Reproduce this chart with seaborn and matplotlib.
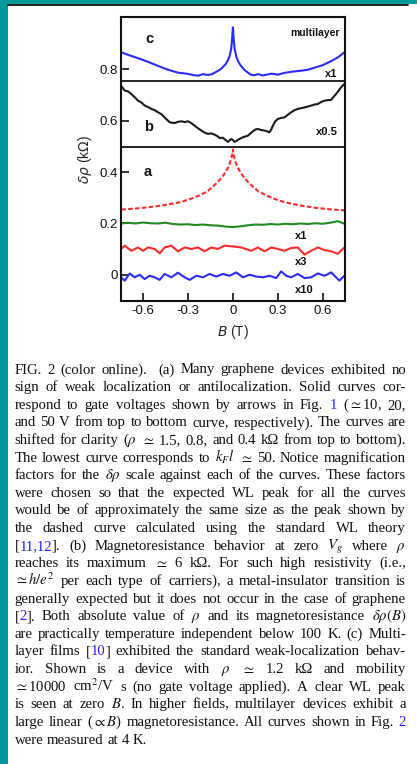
import matplotlib
matplotlib.use("Agg")
import matplotlib.pyplot as plt
import seaborn as sns
import pandas as pd
from matplotlib.patches import Rectangle
from matplotlib.lines import Line2D

# ---------------- data (kOhm, shifted for clarity) ----------------
# (c) multilayer device, x1
B_c = [-0.745, -0.70, -0.633, -0.567, -0.50, -0.433, -0.367, -0.30, -0.26, -0.233,
       -0.20, -0.17, -0.144, -0.12, -0.10, -0.08, -0.067, -0.05, -0.035, -0.022,
       -0.011, -0.004, 0.0, 0.004, 0.011, 0.022, 0.035, 0.05, 0.067, 0.08,
       0.10, 0.12, 0.144, 0.17, 0.20, 0.233, 0.26, 0.30, 0.344, 0.40,
       0.45, 0.50, 0.55, 0.60, 0.65, 0.70, 0.745]
rho_c = [0.865, 0.855, 0.842, 0.828, 0.812, 0.797, 0.786, 0.781, 0.776, 0.774,
         0.780, 0.777, 0.779, 0.786, 0.793, 0.800, 0.808, 0.818, 0.832, 0.850,
         0.880, 0.925, 0.962, 0.925, 0.880, 0.850, 0.830, 0.815, 0.803, 0.795,
         0.786, 0.778, 0.776, 0.780, 0.775, 0.779, 0.782, 0.778, 0.785, 0.790,
         0.793, 0.797, 0.806, 0.815, 0.829, 0.845, 0.865]

# (b) zero gate voltage, x0.5
B_b = [-0.747, -0.722, -0.700, -0.678, -0.655, -0.633, -0.611, -0.589, -0.566, -0.544,
       -0.522, -0.50, -0.478, -0.456, -0.422, -0.389, -0.366, -0.344, -0.322, -0.30,
       -0.278, -0.256, -0.233, -0.211, -0.189, -0.167, -0.144, -0.122, -0.10, -0.089,
       -0.067, -0.056, -0.044, -0.033, -0.022, -0.011, 0.0, 0.011, 0.022, 0.033,
       0.050, 0.067, 0.083, 0.10, 0.117, 0.133, 0.150, 0.167, 0.189, 0.211,
       0.233, 0.244, 0.256, 0.267, 0.283, 0.30, 0.322, 0.344, 0.366, 0.389,
       0.411, 0.433, 0.456, 0.478, 0.50, 0.522, 0.544, 0.567, 0.589, 0.611,
       0.633, 0.656, 0.672, 0.689, 0.706, 0.722, 0.744]
rho_b = [0.735, 0.716, 0.713, 0.703, 0.690, 0.677, 0.670, 0.658, 0.652, 0.645,
         0.640, 0.632, 0.625, 0.612, 0.593, 0.590, 0.595, 0.597, 0.594, 0.597,
         0.590, 0.580, 0.570, 0.561, 0.553, 0.548, 0.550, 0.545, 0.538, 0.532,
         0.533, 0.528, 0.522, 0.517, 0.523, 0.528, 0.524, 0.517, 0.520, 0.525,
         0.530, 0.535, 0.538, 0.541, 0.550, 0.558, 0.565, 0.567, 0.563, 0.561,
         0.557, 0.554, 0.565, 0.580, 0.597, 0.606, 0.610, 0.612, 0.622, 0.632,
         0.640, 0.645, 0.648, 0.651, 0.654, 0.658, 0.662, 0.664, 0.672, 0.677,
         0.679, 0.680, 0.692, 0.703, 0.716, 0.729, 0.742]

# (a) standard WL theory (dashed)
B_wl = [-0.745, -0.65, -0.55, -0.45, -0.35, -0.28, -0.22, -0.17, -0.13, -0.10,
        -0.08, -0.06, -0.045, -0.03, -0.02, -0.012, -0.006, -0.002, 0.0, 0.002,
        0.006, 0.012, 0.02, 0.03, 0.045, 0.06, 0.08, 0.10, 0.13, 0.17,
        0.22, 0.28, 0.35, 0.45, 0.55, 0.65, 0.745]
rho_wl = [0.254, 0.258, 0.264, 0.272, 0.283, 0.296, 0.310, 0.325, 0.345, 0.362,
          0.375, 0.390, 0.404, 0.420, 0.435, 0.450, 0.465, 0.477, 0.487, 0.477,
          0.465, 0.450, 0.435, 0.420, 0.404, 0.390, 0.375, 0.362, 0.345, 0.325,
          0.310, 0.295, 0.282, 0.270, 0.261, 0.255, 0.251]

# (a) Vg ~ 10 V, x1
B_g1 = [-0.745, -0.70, -0.65, -0.60, -0.55, -0.50, -0.45, -0.40, -0.35, -0.30,
        -0.25, -0.20, -0.15, -0.10, -0.05, 0.0, 0.05, 0.10, 0.15, 0.20,
        0.25, 0.30, 0.35, 0.40, 0.45, 0.50, 0.55, 0.60, 0.65, 0.70, 0.745]
rho_g1 = [0.200, 0.203, 0.200, 0.204, 0.201, 0.200, 0.203, 0.198, 0.196, 0.197,
          0.194, 0.196, 0.193, 0.192, 0.188, 0.186, 0.189, 0.193, 0.196, 0.195,
          0.198, 0.196, 0.199, 0.197, 0.200, 0.198, 0.201, 0.199, 0.203, 0.209, 0.199]

# (a) Vg ~ 20 V, x3
B_g3 = [-0.747, -0.722, -0.678, -0.633, -0.60, -0.567, -0.522, -0.489, -0.456, -0.411,
        -0.367, -0.322, -0.278, -0.233, -0.189, -0.144, -0.10, -0.056, 0.0, 0.056,
        0.122, 0.167, 0.211, 0.256, 0.30, 0.344, 0.389, 0.433, 0.478, 0.522,
        0.567, 0.611, 0.656, 0.70, 0.733, 0.744]
rho_g3 = [0.101, 0.114, 0.094, 0.107, 0.094, 0.107, 0.101, 0.084, 0.107, 0.114,
          0.092, 0.107, 0.101, 0.107, 0.092, 0.107, 0.101, 0.114, 0.111, 0.107,
          0.094, 0.107, 0.092, 0.107, 0.101, 0.094, 0.105, 0.107, 0.079, 0.094,
          0.107, 0.097, 0.092, 0.082, 0.101, 0.107]

# (a) Vg ~ 50 V, x10
B_g10 = [-0.747, -0.722, -0.689, -0.656, -0.622, -0.589, -0.556, -0.522, -0.489, -0.456,
         -0.411, -0.367, -0.322, -0.289, -0.244, -0.20, -0.156, -0.111, -0.067, -0.022,
         0.022, 0.067, 0.111, 0.156, 0.20, 0.244, 0.289, 0.322, 0.356, 0.389,
         0.433, 0.478, 0.522, 0.567, 0.611, 0.656, 0.689, 0.711, 0.744]
rho_g10 = [-0.009, -0.022, 0.006, -0.009, 0.001, -0.016, -0.003, -0.009, -0.019, 0.004,
           -0.009, 0.009, -0.009, -0.019, -0.003, -0.009, 0.004, -0.006, 0.004, -0.003,
           0.010, -0.009, 0.001, -0.006, -0.009, -0.003, -0.012, 0.014, -0.003, -0.009,
           0.004, -0.012, -0.009, 0.006, -0.003, 0.010, -0.009, -0.022, -0.003]

y_ticks = [0, 0.2, 0.4, 0.6, 0.8]
y_ticklabels = ["0", "0.2", "0.4", "0.6", "0.8"]
x_ticks = [-0.6, -0.3, 0, 0.3, 0.6]
x_ticklabels = ["-0.6", "-0.3", "0", "0.3", "0.6"]

# ---------------- style ----------------
sns.set_style("ticks")
plt.rcParams["font.family"] = ["Liberation Sans", "DejaVu Sans"]

W, H = 417, 764
fig = plt.figure(figsize=(W / 100, H / 100), dpi=100)
fig.patch.set_facecolor("white")

TEAL = "#009a9a"
fig.add_artist(Rectangle((0, 0), 8 / W, 1, transform=fig.transFigure, color=TEAL, lw=0))
fig.add_artist(Rectangle((0, 1 - 4 / H), 1, 4 / H, transform=fig.transFigure, color=TEAL, lw=0))
fig.add_artist(Line2D([8 / W, 408 / W], [1 - 4.8 / H, 1 - 4.8 / H], transform=fig.transFigure,
                      color="#111111", lw=1.3))


def px(x, y):
    return x / W, 1 - y / H


ax = fig.add_axes([121 / W, 1 - 301 / H, (344.5 - 121) / W, (301 - 17) / H])

curves = [
    (B_c, rho_c, "#2b2bff", "-"),
    (B_b, rho_b, "#1a1a1a", "-"),
    (B_wl, rho_wl, "#ff2b2b", (0, (2.2, 1.1))),
    (B_g1, rho_g1, "#228b22", "-"),
    (B_g3, rho_g3, "#ff2b2b", "-"),
    (B_g10, rho_g10, "#2b2bff", "-"),
]
for bx, ry, col, ls in curves:
    df = pd.DataFrame({"B": bx, "rho": ry})
    sns.lineplot(data=df, x="B", y="rho", ax=ax, color=col, lw=1.5,
                 linestyle=ls, estimator=None, sort=False)

ax.axhline(0.752, color="#111111", lw=1.3)
ax.axhline(0.499, color="#111111", lw=1.3)

ax.set_xlim(-0.747, 0.745)
ax.set_ylim(-0.101, 1.002)
ax.set_xticks(x_ticks)
ax.set_xticklabels(x_ticklabels)
ax.set_yticks(y_ticks)
ax.set_yticklabels(y_ticklabels)
ax.tick_params(direction="in", length=6, width=1.2, labelsize=9.5, colors="#111111",
               top=False, right=False)
ax.tick_params(axis="y", pad=2)
ax.tick_params(axis="x", pad=3)
for sp in ax.spines.values():
    sp.set_linewidth(1.5)
    sp.set_color("#111111")

ax.set_xlabel("$B$ (T)", fontsize=10, labelpad=4.5, math_fontfamily="dejavusans")
ax.set_ylabel(r"$\delta\rho$ (k$\Omega$)", fontsize=10, labelpad=4, math_fontfamily="dejavusans")

bold = dict(fontweight="bold", color="#111111")
ax.text(-0.56, 0.917, "c", fontsize=10.5, ha="center", va="center", **bold)
ax.text(-0.56, 0.575, "b", fontsize=10.5, ha="center", va="center", **bold)
ax.text(-0.567, 0.400, "a", fontsize=10.5, ha="center", va="center", **bold)
ax.text(0.715, 0.94, "multilayer", fontsize=7.5, ha="right", va="center", **bold)
ax.text(0.70, 0.781, "x1", fontsize=8, ha="right", va="center", **bold)
ax.text(0.70, 0.555, "x0.5", fontsize=8, ha="right", va="center", **bold)
ax.text(0.413, 0.153, "x1", fontsize=8, ha="left", va="center", **bold)
ax.text(0.413, 0.050, "x3", fontsize=8, ha="left", va="center", **bold)
ax.text(0.413, -0.058, "x10", fontsize=8, ha="left", va="center", **bold)

# ---------------- caption, justified ----------------
caption = [
    r"FIG. 2 (color online).  (a) Many graphene devices exhibited no",
    r"sign of weak localization or antilocalization. Solid curves cor-",
    r"respond to gate voltages shown by arrows in Fig. |1| ($\simeq$10, 20,",
    r"and 50 V from top to bottom curve, respectively). The curves are",
    r"shifted for clarity ($\rho$ $\simeq$ 1.5, 0.8, and 0.4 kΩ from top to bottom).",
    r"The lowest curve corresponds to $k_F l$ $\simeq$ 50. Notice magnification",
    r"factors for the $\delta\rho$ scale against each of the curves. These factors",
    r"were chosen so that the expected WL peak for all the curves",
    r"would be of approximately the same size as the peak shown by",
    r"the dashed curve calculated using the standard WL theory",
    r"[|11,12|]. (b) Magnetoresistance behavior at zero $V_g$ where $\rho$",
    r"reaches its maximum $\simeq$ 6 kΩ. For such high resistivity (i.e.,",
    r"$\simeq h/e^2$ per each type of carriers), a metal-insulator transition is",
    r"generally expected but it does not occur in the case of graphene",
    r"[|2|]. Both absolute value of $\rho$ and its magnetoresistance $\delta\rho(B)$",
    r"are practically temperature independent below 100 K. (c) Multi-",
    r"layer films [|10|] exhibited the standard weak-localization behav-",
    r"ior. Shown is a device with $\rho$ $\simeq$ 1.2 kΩ and mobility",
    r"$\simeq$10000 cm$^2$/V s (no gate voltage applied). A clear WL peak",
    r"is seen at zero $B$. In higher fields, multilayer devices exhibit a",
    r"large linear ($\propto B$) magnetoresistance. All curves shown in Fig. |2|",
    r"were measured at 4 K.",
]

cap_style = dict(fontsize=10.6, family=["Liberation Serif", "DejaVu Serif"],
                 math_fontfamily="stix", va="baseline", ha="left")
LINK = "#2020ff"
renderer = fig.canvas.get_renderer()


def seg_width(s):
    t = fig.text(0, 0, s, **cap_style)
    w = t.get_window_extent(renderer=renderer).width
    t.remove()
    return w


def split_words(line):
    """Split on spaces that are outside $...$; a double space keeps a wider gap."""
    words, cur, in_math = [], "", False
    for ch in line:
        if ch == "$":
            in_math = not in_math
        if ch == " " and not in_math:
            words.append(cur)
            cur = ""
        else:
            cur += ch
    words.append(cur)
    out = []
    for w in words:
        if w == "" and out:
            out[-1] = (out[-1][0], out[-1][1] + 1)
        else:
            out.append((w, 1))
    return out


space_w = seg_width("a b") - seg_width("ab")
X0, X1 = 14.5, 406.0
y0, dy = 373.5, 17.62

for i, line in enumerate(caption):
    items = split_words(line)
    words = []
    for w, _ in items:
        parts = w.split("|")
        words.append([(p, LINK if k % 2 else "#111111") for k, p in enumerate(parts) if p])
    weights = [n for _, n in items[:-1]]
    widths = [sum(seg_width(s) for s, _ in segs) for segs in words]
    last = i == len(caption) - 1
    if not last and len(words) > 1:
        unit = (X1 - X0 - sum(widths)) / sum(weights)
    else:
        unit = space_w
    x = X0
    yb = y0 + i * dy
    for k, (segs, wd) in enumerate(zip(words, widths)):
        xx = x
        for s, col in segs:
            fig.text(*px(xx, yb), s, color=col, **cap_style)
            xx += seg_width(s)
        if k < len(weights):
            x += wd + unit * weights[k]

fig.savefig("out.png", dpi=100, facecolor="white")
